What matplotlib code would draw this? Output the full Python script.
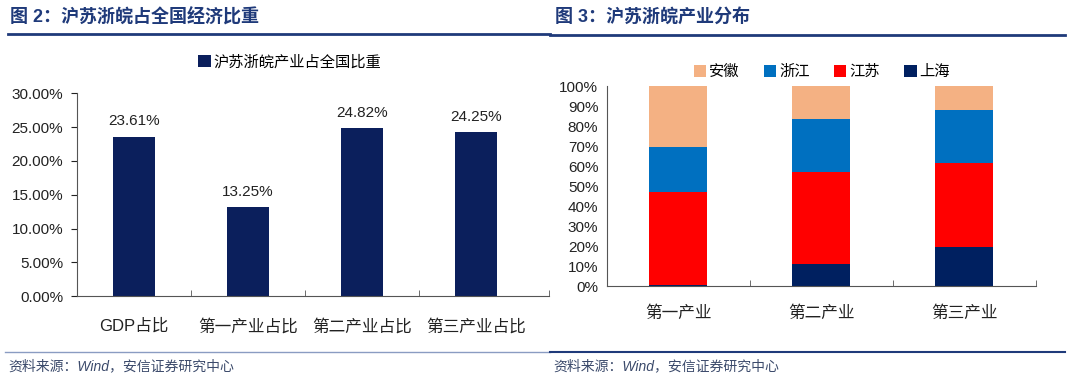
import numpy as np
import matplotlib
matplotlib.use('Agg')
import matplotlib.pyplot as plt
from matplotlib.ticker import FuncFormatter, FixedLocator
from matplotlib.lines import Line2D
from matplotlib.patches import Patch

plt.rcParams['font.family'] = ['Liberation Sans', 'Noto Sans CJK SC']

# 图2 数据
cats_l = ['GDP占比', '第一产业占比', '第二产业占比', '第三产业占比']
share_l = [23.61, 13.25, 24.82, 24.25]
legend_l = '沪苏浙皖产业占全国比重'

# 图3 数据 (各产业中各省占比, %)
cats_r = ['第一产业', '第二产业', '第三产业']
shanghai = [0.5, 11.0, 19.8]
jiangsu = [46.8, 46.3, 42.0]
zhejiang = [22.2, 26.5, 26.2]
anhui = [30.5, 16.2, 12.0]

W, H = 1080, 384
navy = '#0B1F5C'
title_c = '#1F3A7A'
txt = '#222222'

fig = plt.figure(figsize=(W / 100, H / 100), dpi=100)

def px(x0, y0, x1, y1):
    # 像素坐标转 figure 比例
    return [x0 / W, 1 - y1 / H, (x1 - x0) / W, (y1 - y0) / H]

# 标题和横线
fig.text(10 / W, 1 - 17 / H, '图 2：沪苏浙皖占全国经济比重', color=title_c,
         fontsize=13, fontweight='bold', va='center', ha='left')
fig.text(555 / W, 1 - 17 / H, '图 3：沪苏浙皖产业分布', color=title_c,
         fontsize=13, fontweight='bold', va='center', ha='left')
fig.add_artist(Line2D([8 / W, 550 / W], [1 - 34 / H] * 2, color='#1F3A7A', lw=2))
fig.add_artist(Line2D([550 / W, 1065 / W], [1 - 35 / H] * 2, color='#1F3A7A', lw=2))
fig.add_artist(Line2D([5 / W, 550 / W], [1 - 352 / H] * 2, color='#8A9CC2', lw=1))
fig.add_artist(Line2D([550 / W, 1065 / W], [1 - 352 / H] * 2, color='#1F3A7A', lw=1.5))
fig.text(8 / W, 1 - 366 / H, '资料来源：Wind，安信证券研究中心', color='#3B4A6B',
         fontsize=10, fontstyle='italic', va='center', ha='left')
fig.text(553 / W, 1 - 366 / H, '资料来源：Wind，安信证券研究中心', color='#3B4A6B',
         fontsize=10, fontstyle='italic', va='center', ha='left')

# 左图
ax1 = fig.add_axes(px(77, 93.3, 549, 296.3))
x = np.arange(len(cats_l))
ax1.bar(x, share_l, width=0.37, color=navy, label=legend_l)
for xi, v in zip(x, share_l):
    ax1.text(xi, v + 1.2, f'{v:.2f}%', ha='center', va='bottom', fontsize=11, color=txt)
ax1.set_xlim(-0.5, 3.64)
ax1.set_ylim(0, 30)
ax1.set_yticks(np.arange(0, 30.1, 5))
ax1.yaxis.set_major_formatter(FuncFormatter(lambda v, p: f'{v:.2f}%'))
ax1.set_xticks(x)
ax1.set_xticklabels(cats_l)
ax1.xaxis.set_minor_locator(FixedLocator([0.5, 1.5, 2.5, 3.64]))
ax1.tick_params(axis='x', which='major', length=0, pad=16, labelsize=12, colors=txt)
ax1.tick_params(axis='x', which='minor', length=4, direction='in', color='#555555')
ax1.tick_params(axis='y', length=4, labelsize=11, colors=txt, pad=6)
for s in ['top', 'right']:
    ax1.spines[s].set_visible(False)
for s in ['left', 'bottom']:
    ax1.spines[s].set_color('#555555')
    ax1.spines[s].set_linewidth(0.8)
ax1.legend(loc='center', bbox_to_anchor=(290 / W, 1 - 62 / H), bbox_transform=fig.transFigure,
           frameon=False, fontsize=11, handlelength=0.8, handleheight=0.8, handletextpad=0.2)

# 右图
ax2 = fig.add_axes(px(606.7, 86.3, 1035.7, 286.3))
xr = np.arange(len(cats_r))
bw = 0.405
b1 = np.array(shanghai)
b2 = b1 + np.array(jiangsu)
b3 = b2 + np.array(zhejiang)
ax2.bar(xr, anhui, bw, bottom=b3, color='#F4B183', label='安徽')
ax2.bar(xr, zhejiang, bw, bottom=b2, color='#0070C0', label='浙江')
ax2.bar(xr, jiangsu, bw, bottom=b1, color='#FF0000', label='江苏')
ax2.bar(xr, shanghai, bw, color='#002060', label='上海')
ax2.set_xlim(-0.5, 2.5)
ax2.set_ylim(0, 100)
ax2.set_yticks(np.arange(0, 101, 10))
ax2.yaxis.set_major_formatter(FuncFormatter(lambda v, p: f'{v:.0f}%'))
ax2.set_xticks(xr)
ax2.set_xticklabels(cats_r)
ax2.xaxis.set_minor_locator(FixedLocator([0.5, 1.5, 2.5]))
ax2.tick_params(axis='x', which='major', length=0, pad=14, labelsize=12, colors=txt)
ax2.tick_params(axis='x', which='minor', length=4, direction='in', color='#555555')
ax2.tick_params(axis='y', length=0, labelsize=11, colors=txt, pad=6)
for s in ['top', 'right']:
    ax2.spines[s].set_visible(False)
for s in ['left', 'bottom']:
    ax2.spines[s].set_color('#555555')
    ax2.spines[s].set_linewidth(0.8)
ax2.legend(loc='center', bbox_to_anchor=(822 / W, 1 - 72 / H), bbox_transform=fig.transFigure,
           ncol=4, frameon=False, fontsize=11, handlelength=0.8, handleheight=0.8,
           handletextpad=0.2, columnspacing=1.6)

fig.savefig('out.png', dpi=100)
